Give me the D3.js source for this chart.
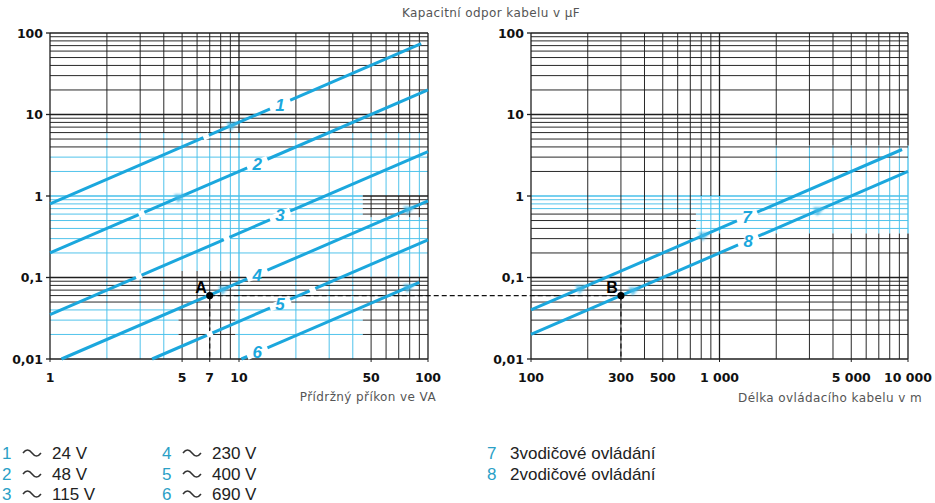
<!DOCTYPE html>
<html>
<head>
<meta charset="utf-8">
<script src="https://cdn.jsdelivr.net/npm/d3@7"></script>
<style>
  body { margin: 0; background: #fff; }
  svg { display: block; }
  text { font-family: "Liberation Sans", Arial, Helvetica, sans-serif; }
  .tick { font-family: "DejaVu Sans", Verdana, sans-serif; font-weight: bold; font-size: 12.5px; fill: #111; }
  .title { font-family: "DejaVu Sans", Verdana, sans-serif; font-size: 12px; letter-spacing: 0.4px; fill: #555; }
</style>
</head>
<body>
<svg id="chart" width="935" height="503"></svg>
<script>
// ---- axis ticks ----
const powerTicks = [1, 5, 7, 10, 50, 100];
const powerTickLabels = ["1", "5", "7", "10", "50", "100"];
const lengthTicks = [100, 300, 500, 1000, 5000, 10000];
const lengthTickLabels = ["100", "300", "500", "1 000", "5 000", "10 000"];
const capTicks = [100, 10, 1, 0.1, 0.01];
const capTickLabels = ["100", "10", "1", "0,1", "0,01"];

// ---- supply voltage lines: [holding power VA, capacitance µF] ----
const voltageIds = ["1", "2", "3", "4", "5", "6"];
const voltageNames = ["24 V", "48 V", "115 V", "230 V", "400 V", "690 V"];
const voltageStart = [[1, 0.8], [1, 0.2], [1, 0.035], [1.15, 0.01], [3.47, 0.01], [10.3, 0.01]];
const voltageEnd = [[92, 74], [100, 20], [100, 3.5], [100, 0.87], [100, 0.29], [90, 0.087]];
const voltageLabelAt = [16.5, 12.5, 16.5, 12.5, 16.5, 12.5];

// ---- control wiring lines: [cable length m, capacitance µF] ----
const wiringIds = ["7", "8"];
const wiringNames = ["3vodičové ovládání", "2vodičové ovládání"];
const wiringStart = [[100, 0.04], [100, 0.02]];
const wiringEnd = [[9300, 3.72], [10000, 2.0]];
const wiringLabelAt = [1400, 1420];

// ---- worked example: point A (power) -> point B (length) ----
const examplePower = 7;
const exampleCap = 0.06;
const exampleLength = 300;

// small breaks in the printed lines [line index, x value]
const voltageGaps = [[0, 6.7], [1, 3.05], [2, 2.95], [2, 8.6], [4, 24.5], [4, 7]];
// reading-direction arrow marks [line index, x value]
const voltageArrows = [[0, 9.3], [1, 4.9], [3, 8.4], [3, 80], [5, 80]];
const wiringArrows = [[0, 186], [1, 356], [0, 835], [1, 3400]];

// ---- colours ----
const LINE = "#1ba7dd";
const GRID_CYAN = "#48c0ea";
const GRID_BLACK = "#1e1e1e";
const NUM = "#2aa0c6";

const svg = d3.select("#chart");

const xL = d3.scaleLog().domain([1, 100]).range([50, 428]);
const xR = d3.scaleLog().domain([100, 10000]).range([531, 908]);
const y = d3.scaleLog().domain([0.01, 100]).range([359, 33]);

function logGrid(lo, hi) {
  const out = [];
  for (let d = lo; d < hi; d *= 10) {
    for (let k = 1; k <= 9; k++) out.push(+(d * k).toPrecision(3));
  }
  out.push(hi);
  return out;
}
const isDecade = v => Math.abs(Math.log10(v) - Math.round(Math.log10(v))) < 1e-9;

// colour zones of the printed grid (left panel)
function leftZone(xv, yv, orient) {
  if (orient === "v" && (xv === 1 || xv === 100)) return GRID_BLACK;
  if (orient === "h" && yv <= 0.0101) return GRID_BLACK;
  if (orient === "v" && yv > 6) return GRID_BLACK;
  if (orient === "h" && yv > 3.5) return GRID_BLACK;
  if (xv >= 45 && yv <= 0.1) return GRID_BLACK;
  if (xv >= 45 && yv >= 0.55 && yv <= 1.0) return GRID_BLACK;
  if (xv >= 4.8 && xv <= 9.6 && yv <= 0.12) return GRID_BLACK;
  if (orient === "h" && yv >= 0.05 && yv <= 0.101) return GRID_BLACK;
  return GRID_CYAN;
}
// colour zones of the printed grid (right panel)
function rightZone(xv, yv, orient) {
  if (orient === "v" && xv === 100) return GRID_BLACK;
  if (orient === "v" && xv >= 1800 && yv >= 1.0 && yv <= 4.2) return GRID_CYAN;
  if (xv >= 750 && yv >= 0.35 && yv <= 1.0) return GRID_CYAN;
  if (orient === "h" && yv >= 0.65 && yv <= 1.0) return GRID_CYAN;
  return GRID_BLACK;
}

function drawGrid(g, x, zone) {
  const N = 400;
  const [xa, xb] = x.domain();
  const [ya, yb] = y.domain();
  const seg = [];
  logGrid(xa, xb).forEach(v => {
    let start = 0, col = null;
    for (let k = 0; k <= N; k++) {
      const c = k < N ? zone(v, ya * Math.pow(yb / ya, (k + 0.5) / N), "v") : null;
      if (c !== col) {
        if (col) seg.push({x1: x(v), x2: x(v), y1: y(ya * Math.pow(yb / ya, start / N)), y2: y(ya * Math.pow(yb / ya, k / N)), c: col, w: isDecade(v) ? 1.3 : 0.95});
        col = c; start = k;
      }
    }
  });
  logGrid(ya, yb).forEach(v => {
    let start = 0, col = null;
    for (let k = 0; k <= N; k++) {
      const c = k < N ? zone(xa * Math.pow(xb / xa, (k + 0.5) / N), v, "h") : null;
      if (c !== col) {
        if (col) seg.push({y1: y(v), y2: y(v), x1: x(xa * Math.pow(xb / xa, start / N)), x2: x(xa * Math.pow(xb / xa, k / N)), c: col, w: isDecade(v) ? 1.3 : 0.95});
        col = c; start = k;
      }
    }
  });
  // cyan first, black on top
  seg.sort((a, b) => (a.c === GRID_BLACK) - (b.c === GRID_BLACK));
  g.selectAll("line.grid").data(seg).join("line")
    .attr("class", "grid")
    .attr("x1", d => d.x1).attr("x2", d => d.x2)
    .attr("y1", d => d.y1).attr("y2", d => d.y2)
    .attr("stroke", d => d.c).attr("stroke-width", d => d.w);
}

const gL = svg.append("g");
const gR = svg.append("g");
drawGrid(gL, xL, leftZone);
drawGrid(gR, xR, rightZone);

// ---- axis ticks & labels ----
function yAxisLabels(x0) {
  const g = svg.append("g");
  g.selectAll("line").data(capTicks).join("line")
    .attr("x1", x0 - 4).attr("x2", x0).attr("y1", d => y(d)).attr("y2", d => y(d))
    .attr("stroke", GRID_BLACK).attr("stroke-width", 1.3);
  g.selectAll("text").data(capTicks).join("text")
    .attr("class", "tick")
    .attr("x", x0 - 7).attr("y", d => y(d) + 4.5)
    .attr("text-anchor", "end")
    .text((d, i) => capTickLabels[i]);
}
yAxisLabels(xL(1));
yAxisLabels(xR(100));

function xAxisLabels(x, ticks, labels) {
  const g = svg.append("g");
  g.selectAll("line").data(ticks).join("line")
    .attr("x1", d => x(d)).attr("x2", d => x(d)).attr("y1", y(0.01)).attr("y2", y(0.01) + 3)
    .attr("stroke", GRID_BLACK).attr("stroke-width", 1);
  g.selectAll("text").data(ticks).join("text")
    .attr("class", "tick")
    .attr("x", d => x(d)).attr("y", 382)
    .attr("text-anchor", "middle")
    .text((d, i) => labels[i]);
}
xAxisLabels(xL, powerTicks, powerTickLabels);
xAxisLabels(xR, lengthTicks, lengthTickLabels);

// ---- titles ----
svg.append("text").attr("class", "title").attr("x", 491).attr("y", 17).attr("text-anchor", "middle")
  .text("Kapacitní odpor kabelu v µF");
svg.append("text").attr("class", "title").attr("x", 436).attr("y", 401).attr("text-anchor", "end")
  .text("Přídržný příkon ve VA");
svg.append("text").attr("class", "title").attr("x", 922).attr("y", 402).attr("text-anchor", "end")
  .text("Délka ovládacího kabelu v m");

// ---- worked example dashed guides ----
const guides = svg.append("g").attr("stroke", "#111").attr("stroke-width", 1.2)
  .attr("stroke-dasharray", "5,3").attr("fill", "none");
guides.append("line").attr("x1", xL(examplePower)).attr("x2", xR(exampleLength))
  .attr("y1", y(exampleCap)).attr("y2", y(exampleCap));
guides.append("line").attr("x1", xL(examplePower)).attr("x2", xL(examplePower))
  .attr("y1", y(exampleCap)).attr("y2", y(0.01));
guides.append("line").attr("x1", xR(exampleLength)).attr("x2", xR(exampleLength))
  .attr("y1", y(exampleCap)).attr("y2", y(0.01));

// ---- characteristic lines ----
function valueAt(p0, p1, xv) {
  const s = Math.log(p1[1] / p0[1]) / Math.log(p1[0] / p0[0]);
  return p0[1] * Math.pow(xv / p0[0], s);
}
function pixelDir(x, p0, p1) {
  const dx = x(p1[0]) - x(p0[0]), dy = y(p1[1]) - y(p0[1]);
  const L = Math.hypot(dx, dy);
  return [dx / L, dy / L];
}

const defs = svg.append("defs");
defs.append("filter").attr("id", "soft").attr("x", "-50%").attr("y", "-50%")
  .attr("width", "200%").attr("height", "200%")
  .append("feGaussianBlur").attr("stdDeviation", 1.3);

function drawLines(x, starts, ends, ids, labelAt, gaps, arrows) {
  const g = svg.append("g");
  const line = d3.line().x(d => x(d[0])).y(d => y(d[1]));
  g.selectAll("path.curve").data(starts).join("path")
    .attr("class", "curve")
    .attr("d", (d, i) => line([d, ends[i]]))
    .attr("stroke", LINE).attr("stroke-width", 3).attr("fill", "none");

  // breaks
  gaps.forEach(([i, xv]) => {
    const [ux, uy] = pixelDir(x, starts[i], ends[i]);
    const cx = x(xv), cy = y(valueAt(starts[i], ends[i], xv));
    g.append("line").attr("x1", cx - ux * 3).attr("y1", cy - uy * 3)
      .attr("x2", cx + ux * 3).attr("y2", cy + uy * 3)
      .attr("stroke", "#fff").attr("stroke-width", 6);
  });

  // arrow marks
  arrows.forEach(([i, xv]) => {
    const [ux, uy] = pixelDir(x, starts[i], ends[i]);
    const cx = x(xv), cy = y(valueAt(starts[i], ends[i], xv));
    const px = -uy, py = ux;
    const tip = [cx + ux * 6, cy + uy * 6];
    const b1 = [cx - ux * 5 + px * 5, cy - uy * 5 + py * 5];
    const b2 = [cx - ux * 5 - px * 5, cy - uy * 5 - py * 5];
    g.append("path").attr("d", `M${tip}L${b1}L${b2}Z`)
      .attr("fill", "#3fb7e6").attr("opacity", 0.75).attr("filter", "url(#soft)");
  });

  // number labels on a white break
  ids.forEach((id, i) => {
    const [ux, uy] = pixelDir(x, starts[i], ends[i]);
    const xv = labelAt[i];
    const cx = x(xv), cy = y(valueAt(starts[i], ends[i], xv));
    g.append("line").attr("x1", cx - ux * 11).attr("y1", cy - uy * 11)
      .attr("x2", cx + ux * 11).attr("y2", cy + uy * 11)
      .attr("stroke", "#fff").attr("stroke-width", 7);
    g.append("text").attr("x", cx).attr("y", cy + 6)
      .attr("text-anchor", "middle").attr("font-size", 17).attr("font-weight", "bold")
      .attr("font-style", "italic").attr("fill", LINE).text(id);
  });
}
drawLines(xL, voltageStart, voltageEnd, voltageIds, voltageLabelAt, voltageGaps, voltageArrows);
drawLines(xR, wiringStart, wiringEnd, wiringIds, wiringLabelAt, [], wiringArrows);

// ---- example points ----
const pts = [{x: xL(examplePower), y: y(exampleCap), t: "A"}, {x: xR(exampleLength), y: y(exampleCap), t: "B"}];
svg.selectAll("circle.pt").data(pts).join("circle").attr("class", "pt")
  .attr("cx", d => d.x).attr("cy", d => d.y).attr("r", 3.6).attr("fill", "#000");
svg.selectAll("text.pt").data(pts).join("text").attr("class", "pt")
  .attr("x", d => d.x - 3).attr("y", d => d.y - 3).attr("text-anchor", "end")
  .attr("font-family", "DejaVu Sans, Verdana, sans-serif")
  .attr("font-size", 16).attr("font-weight", "bold").attr("fill", "#000").text(d => d.t);

// ---- legends ----
function tilde(g, x0, yc) {
  g.append("path").attr("d", `M${x0},${yc} q4.5,-6 9,0 t9,0`)
    .attr("fill", "none").attr("stroke", "#333").attr("stroke-width", 1.5);
}
const legRows = [459, 480, 500];
const lg = svg.append("g").attr("font-size", 17);
voltageIds.forEach((id, i) => {
  const col = Math.floor(i / 3), row = i % 3;
  const x0 = col === 0 ? 2 : 162;
  const yb = legRows[row];
  lg.append("text").attr("x", x0).attr("y", yb).attr("fill", NUM).text(id);
  tilde(lg, x0 + 21, yb - 6);
  lg.append("text").attr("x", x0 + 50).attr("y", yb).attr("fill", "#222").text(voltageNames[i]);
});
wiringIds.forEach((id, i) => {
  const yb = legRows[i];
  lg.append("text").attr("x", 487).attr("y", yb).attr("fill", NUM).text(id);
  lg.append("text").attr("x", 510).attr("y", yb).attr("fill", "#222").text(wiringNames[i]);
});
</script>
</body>
</html>
